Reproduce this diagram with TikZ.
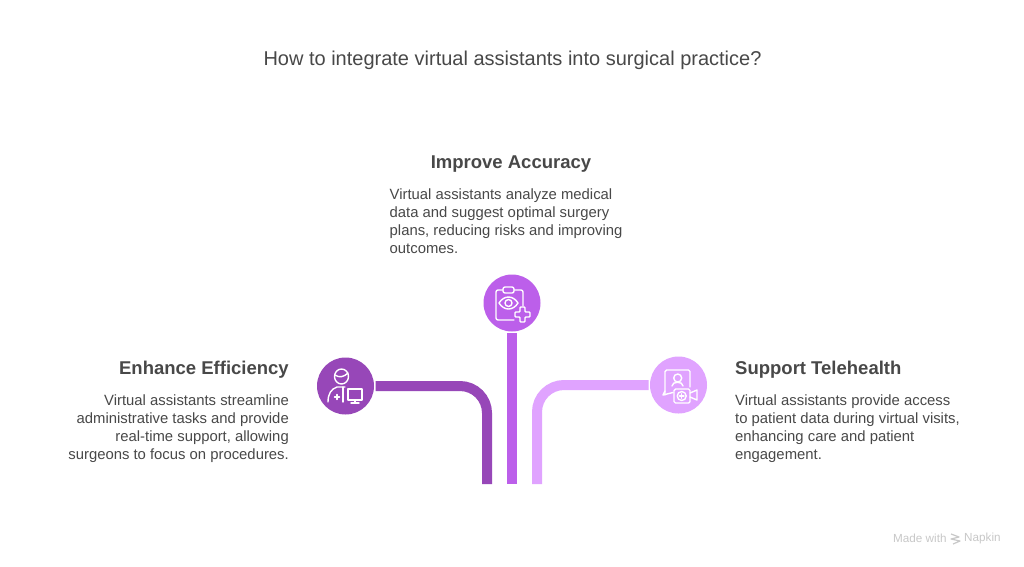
\documentclass[tikz,border=0pt]{standalone}
\usepackage{fontspec}
\setmainfont{Liberation Sans}
\definecolor{cleft}{HTML}{9747B8}
\definecolor{cmid}{HTML}{BC5FEA}
\definecolor{cright}{HTML}{E0A3FF}
\definecolor{ink}{HTML}{484848}
\definecolor{faint}{HTML}{C8C8C8}
\tikzset{
  badge/.style={circle,minimum size=57pt,inner sep=0pt,outer sep=1.5pt,fill=#1},
  link/.style={line width=10pt,draw=#1},
  heading/.style={text=ink,font=\fontsize{18.5}{22}\selectfont\bfseries,inner sep=0pt},
  bodyl/.style={text=ink,font=\fontsize{14.85}{18}\selectfont,inner sep=0pt,align=left,anchor=north west},
  bodyr/.style={text=ink,font=\fontsize{14.85}{18}\selectfont,inner sep=0pt,align=right,anchor=north east},
  ico/.style={draw=white,line width=1.4pt,line cap=round,line join=round,fill=none},
  mark text/.style={text=faint,font=\fontsize{11.7}{14}\selectfont,inner sep=0pt,anchor=west},
}
\begin{document}
\begin{tikzpicture}[x=1pt,y=-1pt]
\useasboundingbox (0,0) rectangle (1024,566);
\fill[white] (0,0) rectangle (1024,566);
\node[text=ink,font=\fontsize{20}{24}\selectfont,inner sep=0pt] (title) at (512.5,60.5) {How to integrate virtual assistants into surgical practice?};

\node[badge=cleft] (bl) at (345.5,386) {};
\node[badge=cmid] (bm) at (512,303) {};
\node[badge=cright] (br) at (678.5,385) {};
\coordinate (el) at (487,484);
\coordinate (em) at (512,484);
\coordinate (er) at (537,484);
\draw[link=cleft] (bl.east) -- (460,386) arc[start angle=-90,end angle=0,radius=27] -- (el);
\draw[link=cmid] (bm.south) -- (em);
\draw[link=cright] (br.west) -- (564,385) arc[start angle=-90,end angle=-180,radius=27] -- (er);

\node[heading,anchor=center] (h2) at (511,164.5) {Improve Accuracy};
\node[bodyl] (t2) at (389.5,188.5) {Virtual assistants analyze medical\\data and suggest optimal surgery\\plans, reducing risks and improving\\outcomes.};
\node[heading,anchor=east] (h1) at (289,369.5) {Enhance Efficiency};
\node[bodyr] (t1) at (289,395) {Virtual assistants streamline\\administrative tasks and provide\\real-time support, allowing\\surgeons to focus on procedures.};
\node[heading,anchor=west] (h3) at (735,369.5) {Support Telehealth};
\node[bodyl] (t3) at (735,394.5) {Virtual assistants provide access\\to patient data during virtual visits,\\enhancing care and patient\\engagement.};

% middle icon: clipboard, eye, plus
\begin{scope}[shift={(470,265)}]
\draw[ico,rounded corners=2pt] (33,25) -- (26,25) -- (26,55) -- (44,55);
\draw[ico,rounded corners=2pt] (44,25) -- (53,25) -- (53,41);
\draw[ico,rounded corners=2pt] (33,22) rectangle (44,28);
\draw[ico] (29,38) .. controls (34,30) and (43,30) .. (48,38) .. controls (43,46) and (34,46) .. (29,38) -- cycle;
\draw[ico] (38.5,38) circle[radius=3.5];
\draw[ico,rounded corners=0.8pt] (50,42) -- (55,42) -- (55,47) -- (60,47) -- (60,52) -- (55,52) -- (55,57) -- (50,57) -- (50,52) -- (45,52) -- (45,47) -- (50,47) -- cycle;
\end{scope}

% left icon: doctor and monitor
\begin{scope}[shift={(305,345)}]
\draw[ico] (36.5,31.5) ellipse[x radius=7,y radius=7.5];
\draw[ico] (30,30) .. controls (34,33) and (39,32) .. (43,28);
\draw[ico] (23,57) .. controls (23,49) and (26,44) .. (32,42) -- (40,42);
\draw[ico] (38,42) -- (38,57);
\draw[ico] (32,49.5) -- (32,54.5) (29.5,52) -- (34.5,52);
\draw[ico] (43,44) rectangle (57,55);
\draw[ico] (50,55) -- (50,58) (46,58) -- (54,58);
\end{scope}

% right icon: chat bubble, person, video camera
\begin{scope}[shift={(640,345)}]
\draw[ico,rounded corners=1.5pt] (25,50) -- (25,25) -- (50,25) -- (50,42);
\draw[ico] (25,46) -- (23,50) -- (33,47.5);
\draw[ico] (37.7,33) circle[radius=4];
\draw[ico] (32,41) .. controls (32,36) and (43,36) .. (43,41);
\draw[ico,rounded corners=1.5pt] (34,44) rectangle (50,58);
\draw[ico] (50,48) -- (57,45) -- (57,55) -- (50,52);
\draw[ico] (41.7,51) circle[radius=4.5];
\draw[ico] (41.7,48.8) -- (41.7,53.2) (39.5,51) -- (43.9,51);
\end{scope}

\node[mark text] (m1) at (893,538.5) {Made with};
\node[mark text] (m2) at (964,538.5) {Napkin};
\draw[faint,line width=1.2pt,line join=round] (951,534) -- (959,537) -- (951,539) -- (960,541) -- (953,544);
\end{tikzpicture}
\end{document}
